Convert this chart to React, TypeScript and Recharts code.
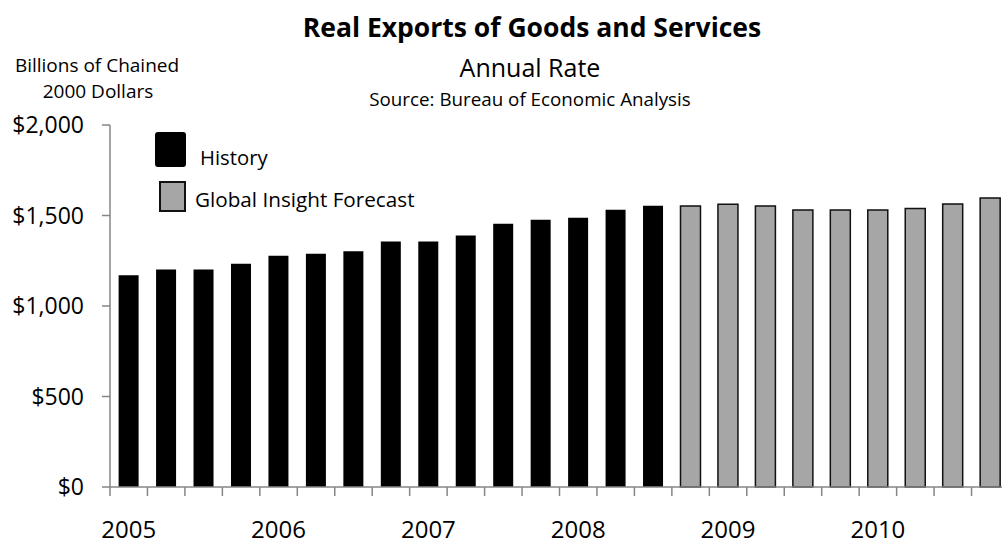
import React from 'react';
import { BarChart, Bar, XAxis, YAxis, Cell } from 'recharts';

const years = ['2005', '2006', '2007', '2008', '2009', '2010'];
const quarterNames = ['Q1', 'Q2', 'Q3', 'Q4'];
const quarters = years.flatMap((y) => quarterNames.map((q) => `${y} ${q}`));
const historyValues = [1170, 1201, 1201, 1234, 1278, 1289, 1302, 1356, 1356, 1389, 1455, 1477, 1488, 1532, 1554];
const forecastValues = [1553, 1562, 1552, 1530, 1530, 1530, 1539, 1563, 1596];
const yTicks = [0, 500, 1000, 1500, 2000];

const data = quarters.map((q, i) => ({
  quarter: q,
  value: i < historyValues.length ? historyValues[i] : forecastValues[i - historyValues.length],
  forecast: i >= historyValues.length,
}));

const CHART_W = 1012;
const CHART_H = 545;
const MARGIN = { top: 125, right: 3, left: 0, bottom: 0 };
const Y_AXIS_W = 110;
const BAND = (CHART_W - MARGIN.left - MARGIN.right - Y_AXIS_W) / quarters.length;
const AXIS_COLOR = '#868686';
const FONT = '"Open Sans", "Noto Sans", sans-serif';

const XTick = (props: any) => {
  const { x, y, payload } = props;
  const half = payload && payload.offset ? payload.offset : BAND / 2;
  const label: string = payload.value;
  const isQ1 = label.endsWith('Q1');
  return (
    <g>
      <line x1={x - half} x2={x - half} y1={y} y2={y + 9} stroke={AXIS_COLOR} strokeWidth={1.5} />
      {isQ1 && (
        <text x={x} y={y + 51} textAnchor="middle" fontSize={24} fill="#000" fontFamily={FONT}>
          {label.slice(0, 4)}
        </text>
      )}
    </g>
  );
};

export default function App() {
  return (
    <div
      style={{
        position: 'absolute',
        left: 0,
        top: 0,
        width: 1002,
        height: 545,
        overflow: 'hidden',
        background: '#fff',
        fontFamily: FONT,
      }}
    >
      <BarChart width={CHART_W} height={CHART_H} data={data} margin={MARGIN} barCategoryGap="23%">
        <XAxis
          dataKey="quarter"
          interval={0}
          height={58}
          tickSize={0}
          tickMargin={0}
          tickLine={false}
          axisLine={{ stroke: AXIS_COLOR, strokeWidth: 1.5 }}
          tick={<XTick />}
        />
        <YAxis
          width={Y_AXIS_W}
          domain={[0, 2000]}
          ticks={yTicks}
          interval={0}
          tickSize={8}
          tickMargin={18}
          axisLine={{ stroke: AXIS_COLOR, strokeWidth: 1.5 }}
          tickLine={{ stroke: AXIS_COLOR, strokeWidth: 1.5 }}
          tick={{ fontSize: 23, fill: '#000', fontFamily: FONT }}
          tickFormatter={(v: number) => `$${v.toLocaleString('en-US')}`}
        />
        <Bar dataKey="value" isAnimationActive={false}>
          {data.map((d, i) => (
            <Cell
              key={i}
              fill={d.forecast ? '#a6a6a6' : '#000000'}
              stroke={d.forecast ? '#111111' : 'none'}
              strokeWidth={d.forecast ? 1.5 : 0}
            />
          ))}
        </Bar>
      </BarChart>
      <svg
        width={1002}
        height={545}
        style={{ position: 'absolute', left: 0, top: 0, pointerEvents: 'none' }}
        fontFamily={FONT}
      >
        <text x={532} y={37} textAnchor="middle" fontSize={26.5} fontWeight="bold" fill="#000">
          Real Exports of Goods and Services
        </text>
        <text x={530} y={77} textAnchor="middle" fontSize={25} fill="#000">
          Annual Rate
        </text>
        <text x={530} y={106} textAnchor="middle" fontSize={18.8} fill="#000">
          Source: Bureau of Economic Analysis
        </text>
        <text x={97} y={72} textAnchor="middle" fontSize={19} fill="#000">
          Billions of Chained
        </text>
        <text x={98} y={98} textAnchor="middle" fontSize={19} fill="#000">
          2000 Dollars
        </text>
        <rect x={155} y={132} width={31} height={35} rx={3} fill="#000" />
        <text x={200} y={165} fontSize={20.3} fill="#000">
          History
        </text>
        <rect x={160} y={182} width={25} height={29} fill="#a6a6a6" stroke="#111" strokeWidth={2} />
        <text x={195} y={207} fontSize={20.7} fill="#000">
          Global Insight Forecast
        </text>
      </svg>
    </div>
  );
}
